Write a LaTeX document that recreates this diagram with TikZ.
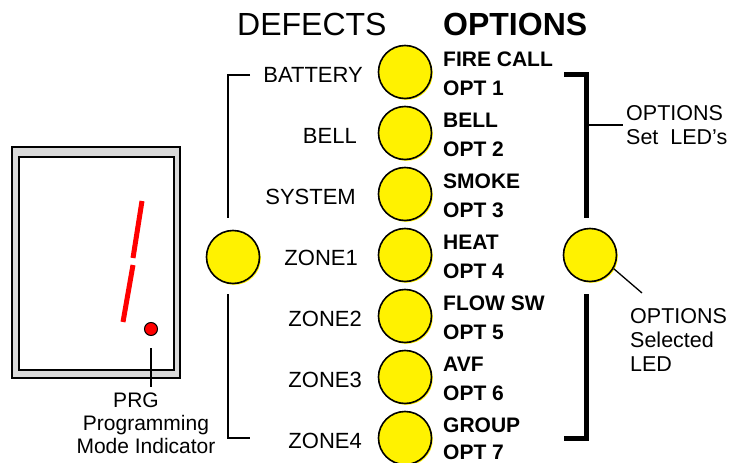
\documentclass[tikz,border=0pt]{standalone}
\usepackage{fontspec}
\setmainfont{Liberation Sans}

\begin{document}
\begin{tikzpicture}[x=1pt, y=-1pt, >=stealth,
    led/.style={circle, draw=black, line width=1.6pt, fill=yellow, minimum size=53pt, inner sep=0pt,
      preaction={fill=yellow, transform canvas={shift={(1.3pt,-1.3pt)}}}},
    lbl/.style={font=\fontsize{22}{24}\selectfont, inner sep=0pt},
    optlbl/.style={font=\fontsize{21}{24}\selectfont\bfseries, inner sep=0pt, anchor=base west},
    thinln/.style={line width=1.3pt},
    thickln/.style={line width=5pt}]
    \useasboundingbox (0,0) rectangle (732,463);

    % Khung hien thi
    \draw[line width=1.6pt, fill=gray!30] (12,147) rectangle (180,378);
    \draw[line width=1.6pt, fill=white] (19,157) rectangle (174,370);
    \draw[red, line width=5pt] (142,201) -- (133,258);
    \draw[red, line width=5pt] (133,265) -- (123,322);
    \node[circle, draw=black, fill=red, line width=1pt, minimum size=13pt, inner sep=0pt] (prgled) at (151,329) {};
    \node[lbl, anchor=north, align=center, font=\fontsize{21}{23}\selectfont] (prgtxt) at (146,393)
        {PRG\hspace*{20pt}\\Programming\\Mode Indicator};
    \draw[thinln, shorten <=12pt, shorten >=6pt] (prgled.south) -- (prgled.south |- prgtxt.north);

    % Tieu de
    \node[anchor=base west, inner sep=0pt, font=\fontsize{32}{36}\selectfont] (defhd) at (237,35) {DEFECTS};
    \node[anchor=base west, inner sep=0pt, font=\fontsize{32}{36}\selectfont\bfseries] (opthd) at (443,35) {OPTIONS};

    % Cot LED
    \foreach \i/\fault/\fx/\opt in {1/BATTERY/363/FIRE CALL, 2/BELL/357/BELL, 3/SYSTEM/356/SMOKE,
        4/ZONE1/358/HEAT, 5/ZONE2/362/FLOW SW, 6/ZONE3/362/AVF, 7/ZONE4/362/GROUP}{
      \pgfmathsetmacro\cy{72+(\i-1)*61}
      \pgfmathsetmacro\oy{\i==7 ? 21 : 23}
      \node[led] (led\i) at (405,\cy) {};
      \node[lbl, anchor=base east] (flt\i) at (\fx,\cy+10) {\fault};
      \node[optlbl] (opt\i) at (443,\cy-6) {\opt};
      \node[optlbl] (optn\i) at (443,\cy+\oy) {OPT \i};
    }

    % Ngoac trai va LED loi
    \node[led] (ledL) at (233,257) {};
    \coordinate (lbk1) at (250,75);
    \coordinate (lbk2) at (250,438);
    \draw[thinln] (lbk1) -- (228,75) -- (228,218);
    \draw[thinln] (228,294) -- (228,438) -- (lbk2);

    % Ngoac phai va LED tuy chon
    \node[led] (ledR) at (590,255) {};
    \draw[thickln] (564,74) -- (586,74) -- (586,218);
    \draw[thickln] (586,294) -- (586,438) -- (564,438);
    \node[lbl, align=left, anchor=north west, font=\fontsize{21.5}{24}\selectfont] (setlbl) at (626,105) {OPTIONS\\Set\ \ LED's};
    \coordinate (rbk) at (588,125);
    \draw[thinln, shorten >=3pt] (rbk) -- (rbk -| setlbl.west);
    \node[lbl, align=left, anchor=north west, font=\fontsize{21.5}{24}\selectfont] (sellbl) at (630,308) {OPTIONS\\Selected\\LED};
    \coordinate (selend) at (642,293);
    \draw[thinln] (ledR.-30) -- (selend);
\end{tikzpicture}
\end{document}
